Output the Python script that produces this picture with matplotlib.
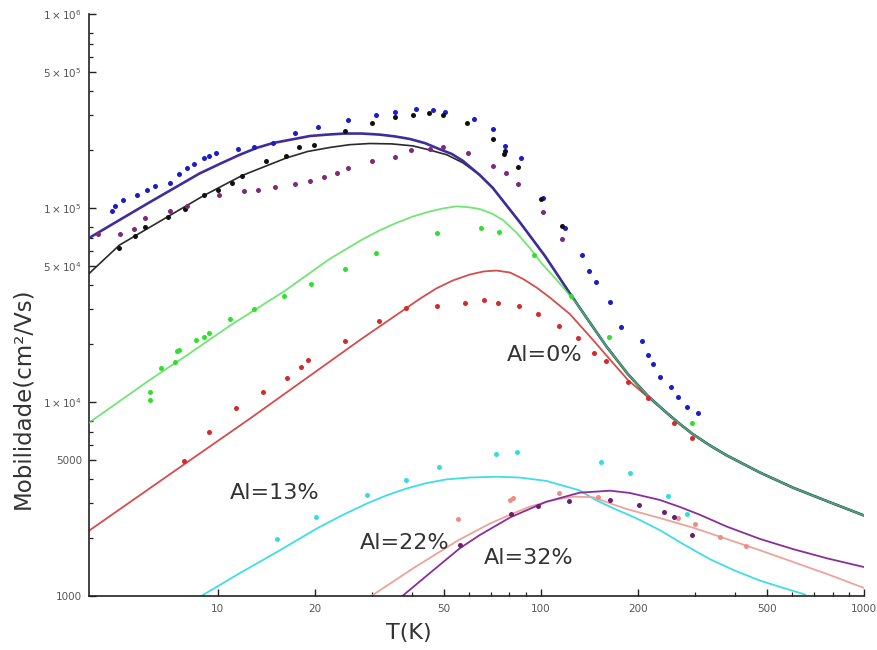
import matplotlib
matplotlib.use("Agg")
import matplotlib.pyplot as plt
from matplotlib.ticker import FixedLocator, FixedFormatter, NullFormatter

# ---------------- data ----------------
# Al = 0 % samples: measured points
T_blue = [4.71, 4.83, 5.09, 5.63, 6.05, 6.42, 7.10, 7.62, 8.03, 8.45, 9.06, 9.42, 9.91, 11.6, 13.0,
          14.8, 17.3, 20.5, 25.3, 31.0, 35.3, 41.0, 46.4, 50.5, 62.2, 70.9, 77.4, 87.1, 101.6, 119,
          134, 141, 148, 164, 177, 206, 215, 222, 234, 252, 265, 284, 307]
mu_blue = [96.5e3, 103e3, 110e3, 116e3, 124e3, 130e3, 135e3, 149e3, 160e3, 168e3, 180e3, 185e3, 192e3,
           202e3, 206e3, 217e3, 244e3, 260e3, 283e3, 303e3, 313e3, 323e3, 319e3, 313e3, 288e3, 255e3,
           209e3, 182e3, 112e3, 78.6e3, 57.2e3, 47.5e3, 41.7e3, 32.9e3, 24.3e3, 20.6e3, 17.5e3, 15.7e3,
           13.5e3, 12.0e3, 10.6e3, 9.46e3, 8.75e3]

T_black = [4.94, 5.57, 5.98, 7.01, 7.92, 9.07, 10.0, 11.1, 11.9, 14.1, 16.3, 17.8, 19.9, 24.8, 30.0,
           35.3, 40.2, 45.0, 49.9, 59.2, 70.9, 76.8, 77.4, 85.1, 100.4, 116]
mu_black = [62.4e3, 71.5e3, 80.1e3, 90.2e3, 98.5e3, 116e3, 124e3, 135e3, 147e3, 174e3, 185e3, 206e3,
            212e3, 248e3, 274e3, 296e3, 303e3, 308e3, 303e3, 274e3, 227e3, 189e3, 197e3, 162e3, 111e3,
            80.7e3]

T_purple = [4.26, 5.00, 5.53, 5.94, 7.10, 8.03, 10.1, 12.1, 13.3, 15.0, 17.3, 19.3, 21.3, 23.4, 25.3,
            30.0, 35.3, 39.8, 45.3, 49.9, 59.6, 70.9, 77.8, 85.1, 101.6, 116]
mu_purple = [73.5e3, 73.8e3, 77.7e3, 89.1e3, 96.6e3, 103e3, 116e3, 122e3, 124e3, 128e3, 133e3, 138e3,
             144e3, 152e3, 160e3, 175e3, 183e3, 198e3, 201e3, 206e3, 192e3, 165e3, 151e3, 133e3,
             95.1e3, 69.0e3]

T_green = [6.16, 6.16, 6.70, 7.40, 7.50, 7.62, 8.59, 9.05, 9.42, 10.9, 13.0, 16.1, 19.4, 24.8, 31.0,
           47.7, 65.3, 74.4, 95.2, 124, 162, 294]
mu_green = [11.2e3, 10.2e3, 14.9e3, 16.0e3, 18.4e3, 18.5e3, 20.9e3, 21.6e3, 22.8e3, 26.9e3, 30.3e3,
            35.2e3, 40.4e3, 48.5e3, 58.5e3, 73.9e3, 78.8e3, 75.0e3, 57.5e3, 35.2e3, 21.6e3, 7.77e3]

T_red = [7.88, 9.42, 11.4, 13.8, 16.4, 18.1, 19.1, 24.8, 31.6, 38.3, 47.7, 58.4, 66.7, 73.8, 85.7,
         97.7, 114, 130, 146, 159, 186, 215, 259, 294]
mu_red = [4.94e3, 7.03e3, 9.35e3, 11.2e3, 13.3e3, 15.2e3, 16.5e3, 20.6e3, 26.2e3, 30.4e3, 31.3e3,
          32.3e3, 33.6e3, 32.3e3, 31.3e3, 28.3e3, 24.6e3, 21.4e3, 17.9e3, 16.3e3, 12.7e3, 10.5e3,
          7.8e3, 6.55e3]

# Al = 13 %, 22 %, 32 % measured points
T_cyan = [15.3, 20.2, 29.0, 38.4, 48.3, 72.9, 84.1, 154, 189, 247, 284]
mu_cyan = [1.96e3, 2.56e3, 3.30e3, 3.96e3, 4.63e3, 5.37e3, 5.54e3, 4.92e3, 4.33e3, 3.29e3, 2.65e3]

T_salmon = [55.6, 80.2, 82.0, 114, 150, 265, 300, 359, 430]
mu_salmon = [2.48e3, 3.13e3, 3.19e3, 3.41e3, 3.25e3, 2.52e3, 2.35e3, 2.02e3, 1.82e3]

T_p32 = [56.1, 80.7, 97.7, 122, 164, 202, 240, 258, 294]
mu_p32 = [1.83e3, 2.66e3, 2.91e3, 3.09e3, 3.13e3, 2.93e3, 2.70e3, 2.56e3, 2.06e3]

# fitted curves
T_fit_blue = [4.0, 4.97, 6.16, 8.79, 10.14, 11.7, 13.2, 14.8, 19.3, 21.9, 24.7, 27.9, 31.7, 35.3,
              39.3, 43.8, 48.6, 53.0, 57.4, 64.7, 71.0, 86.0, 103, 123, 141.8, 160.1, 185.9, 214.5,
              245.5, 269.4, 293.5, 333.7, 376.6, 476.4, 602.4, 773.4, 1000]
mu_fit_blue = [70.0e3, 86.7e3, 107e3, 150.6e3, 168.6e3, 188e3, 204e3, 216e3, 235e3, 239e3, 242e3,
               242e3, 239e3, 234e3, 227e3, 216e3, 201e3, 190e3, 175e3, 148e3, 127e3, 84.7e3, 56.6e3,
               36.3e3, 25.7e3, 19.2e3, 13.94e3, 10.74e3, 8.78e3, 7.70e3, 6.88e3, 5.97e3, 5.30e3,
               4.33e3, 3.62e3, 3.07e3, 2.60e3]

T_fit_black = [4.0, 4.97, 7.01, 9.07, 11.9, 16.3, 19.0, 22.2, 25.6, 29.6, 34.6, 40.2, 45.3, 51.2,
               57.4, 64.7, 71.0, 86.0, 103, 123, 141.8, 160.1, 185.9, 214.5, 245.5, 269.4, 293.5,
               333.7, 376.6, 476.4, 602.4, 773.4, 1000]
mu_fit_black = [45.9e3, 64.4e3, 90.2e3, 116e3, 147e3, 181e3, 195.6e3, 205e3, 212e3, 215e3, 214e3,
                209e3, 199e3, 188e3, 171e3, 148e3, 127e3, 84.7e3, 56.6e3, 36.3e3, 25.7e3, 19.2e3,
                13.94e3, 10.74e3, 8.78e3, 7.70e3, 6.88e3, 5.97e3, 5.30e3, 4.33e3, 3.62e3, 3.07e3,
                2.60e3]

T_fit_green = [4.0, 6.17, 8.07, 10.9, 16.1, 22.2, 28.2, 31.7, 35.7, 40.2, 45.3, 49.7, 54.8, 59.5,
               64.7, 70.5, 76.4, 84.3, 92.5, 101, 112, 129, 141.8, 160.1, 185.9, 214.5, 245.5,
               269.4, 293.5, 333.7, 376.6, 476.4, 602.4, 773.4, 1000]
mu_fit_green = [7.82e3, 13.0e3, 17.5e3, 24.7e3, 37.3e3, 54.6e3, 69.2e3, 76.6e3, 83.7e3, 90.4e3,
                95.9e3, 99.4e3, 102e3, 101e3, 98.8e3, 93.7e3, 86.7e3, 74.3e3, 62.2e3, 51.4e3,
                42.6e3, 32.3e3, 25.7e3, 19.2e3, 13.94e3, 10.74e3, 8.78e3, 7.70e3, 6.88e3, 5.97e3,
                5.30e3, 4.33e3, 3.62e3, 3.07e3, 2.60e3]

T_fit_red = [4.0, 6.84, 12.6, 27.6, 38.4, 42.2, 47.5, 53.4, 60.3, 66.6, 72.9, 80.3, 88.1, 97.5, 107,
             123, 145, 159, 186, 214.5, 245.5, 269.4, 293.5, 333.7, 376.6, 476.4, 602.4, 773.4, 1000]
mu_fit_red = [2.17e3, 4.05e3, 8.22e3, 20.9e3, 30.5e3, 34.0e3, 38.5e3, 42.3e3, 45.4e3, 47.1e3, 47.6e3,
              46.5e3, 43.1e3, 38.7e3, 34.4e3, 28.4e3, 20.9e3, 17.5e3, 12.98e3, 10.6e3, 8.78e3,
              7.70e3, 6.88e3, 5.97e3, 5.30e3, 4.33e3, 3.62e3, 3.07e3, 2.60e3]

T_fit_cyan = [8.9, 11.7, 15.3, 20.3, 24.2, 29.0, 33.3, 38.4, 44.3, 51.0, 60.3, 72.9, 86.0, 104, 132,
              148, 168, 198, 233, 279, 333, 399, 477, 557, 657]
mu_fit_cyan = [1.0e3, 1.31e3, 1.69e3, 2.23e3, 2.60e3, 3.00e3, 3.30e3, 3.58e3, 3.82e3, 3.99e3, 4.08e3,
               4.12e3, 4.08e3, 3.92e3, 3.50e3, 3.12e3, 2.83e3, 2.51e3, 2.19e3, 1.83e3, 1.55e3,
               1.35e3, 1.20e3, 1.106e3, 1.018e3]

T_fit_salmon = [29.9, 40.3, 55.6, 69.5, 80.2, 91.0, 104, 115, 126, 145, 164, 184, 230, 296, 477, 767,
                1000]
mu_fit_salmon = [1.0e3, 1.39e3, 1.94e3, 2.36e3, 2.62e3, 2.86e3, 3.06e3, 3.17e3, 3.25e3, 3.23e3,
                 3.0e3, 2.81e3, 2.54e3, 2.25e3, 1.72e3, 1.30e3, 1.10e3]

T_fit_p32 = [37.3, 45.3, 56.1, 64.7, 80.7, 104, 132, 164, 188, 233, 269, 311, 376, 476, 603, 773, 1000]
mu_fit_p32 = [1.0e3, 1.31e3, 1.76e3, 2.06e3, 2.55e3, 3.06e3, 3.41e3, 3.49e3, 3.40e3, 3.13e3, 2.88e3,
              2.62e3, 2.28e3, 1.97e3, 1.745e3, 1.56e3, 1.41e3]

x_major = [10, 20, 50, 100, 200, 500, 1000]
x_major_labels = ["10", "20", "50", "100", "200", "500", "1000"]
x_minor = [30, 40, 60, 70, 80, 90, 300, 400, 600, 700, 800, 900]
y_major = [1e3, 5e3, 1e4, 5e4, 1e5, 5e5, 1e6]
y_major_labels = ["1000", "5000", r"$1\times10^{4}$", r"$5\times10^{4}$",
                  r"$1\times10^{5}$", r"$5\times10^{5}$", r"$1\times10^{6}$"]
y_minor = [m * d for d in (1e3, 1e4, 1e5) for m in (2, 3, 4, 6, 7, 8)]

labels = ["Al=0%", "Al=13%", "Al=22%", "Al=32%"]

# ---------------- figure ----------------
fig = plt.figure(figsize=(8.77, 6.5), dpi=100)
ax = fig.add_axes([89 / 877, 1 - 596 / 650, (864 - 89) / 877, (596 - 14) / 650])
ax.set_xscale("log")
ax.set_yscale("log")
ax.set_xlim(4.0, 1000)
ax.set_ylim(1000, 1e6)

lw = 1.3
ax.plot(T_fit_black, mu_fit_black, color="#2a2a2a", lw=1.2, zorder=2)
ax.plot(T_fit_red, mu_fit_red, color="#d64c4c", lw=lw, zorder=2)
ax.plot(T_fit_blue, mu_fit_blue, color="#3f2d9c", lw=1.9, zorder=3)
ax.plot(T_fit_green, mu_fit_green, color="#44dd44", lw=lw, alpha=0.75, zorder=4)
ax.plot(T_fit_cyan, mu_fit_cyan, color="#3fdde6", lw=lw, zorder=2)
ax.plot(T_fit_salmon, mu_fit_salmon, color="#eda39a", lw=lw, zorder=2)
ax.plot(T_fit_p32, mu_fit_p32, color="#8a2e9e", lw=lw, zorder=2)

s = 13
ax.scatter(T_blue, mu_blue, s=s, color="#1c1cc8", lw=0, zorder=5)
ax.scatter(T_black, mu_black, s=s, color="#111111", lw=0, zorder=5)
ax.scatter(T_purple, mu_purple, s=s, color="#7d2a7d", lw=0, zorder=5)
ax.scatter(T_green, mu_green, s=s, color="#2ee02e", lw=0, zorder=5)
ax.scatter(T_red, mu_red, s=s, color="#d42a2a", lw=0, zorder=5)
ax.scatter(T_cyan, mu_cyan, s=s, color="#33dde0", lw=0, zorder=5)
ax.scatter(T_salmon, mu_salmon, s=s, color="#ea8f86", lw=0, zorder=5)
ax.scatter(T_p32, mu_p32, s=s, color="#6b1f6f", lw=0, zorder=5)

# axes styling
for side in ("top", "right"):
    ax.spines[side].set_visible(False)
for side in ("left", "bottom"):
    ax.spines[side].set_color("#222222")
    ax.spines[side].set_linewidth(1.2)

ax.xaxis.set_major_locator(FixedLocator(x_major))
ax.xaxis.set_major_formatter(FixedFormatter(x_major_labels))
ax.xaxis.set_minor_locator(FixedLocator(x_minor))
ax.xaxis.set_minor_formatter(NullFormatter())
ax.yaxis.set_major_locator(FixedLocator(y_major))
ax.yaxis.set_major_formatter(FixedFormatter(y_major_labels))
ax.yaxis.set_minor_locator(FixedLocator(y_minor))
ax.yaxis.set_minor_formatter(NullFormatter())

ax.tick_params(which="major", direction="in", length=5, width=1.0, color="#222222",
               labelsize=7.5, labelcolor="#555555")
ax.tick_params(which="minor", direction="in", length=3, width=0.9, color="#222222")
ax.tick_params(axis="x", which="major", pad=6)
ax.tick_params(axis="y", which="major", pad=5)

txt_color = "#333333"
fig.text(0.4664, 0.0262, "T(K)", fontsize=16, color=txt_color, ha="center", va="center")
fig.text(0.0262, 0.3877, "Mobilidade(cm²/Vs)", fontsize=16.5, color=txt_color,
         ha="center", va="center", rotation=90)

pos = [(0.6214, 0.4538), (0.3136, 0.2415), (0.4618, 0.1646), (0.6032, 0.1415)]
for lab, (px, py) in zip(labels, pos):
    fig.text(px, py, lab, fontsize=16, color=txt_color, ha="center", va="center")

fig.savefig("out.png", dpi=100, facecolor="white")
